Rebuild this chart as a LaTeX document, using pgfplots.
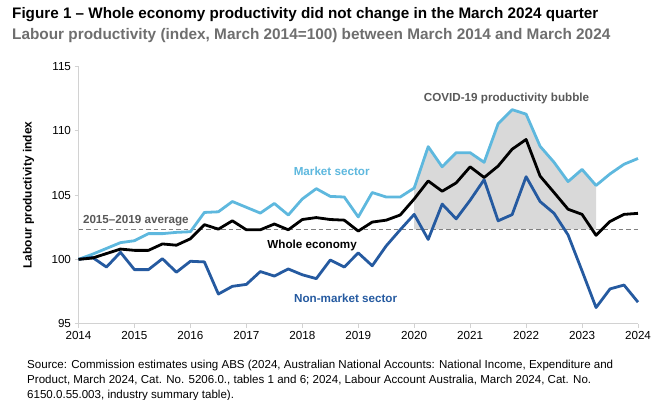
\documentclass[border=0pt]{standalone}
\usepackage{fontspec}
\setmainfont{Liberation Sans}
\usepackage{pgfplots}
\usepackage{pgfplotstable}
\pgfplotsset{compat=1.18}
\definecolor{mkt}{RGB}{94,184,222}
\definecolor{nonmkt}{RGB}{37,90,160}
\definecolor{avgc}{RGB}{128,128,128}
\definecolor{bubble}{RGB}{217,217,217}
\definecolor{subt}{RGB}{110,110,110}
\definecolor{annot}{RGB}{89,89,89}
\definecolor{axisc}{RGB}{210,210,210}

\pgfplotstableread{
q mkt whole nonmkt
0 100.00 100.00 100.00
1 100.40 100.10 100.15
2 100.85 100.45 99.40
3 101.30 100.80 100.55
4 101.45 100.70 99.20
5 102.00 100.70 99.20
6 102.00 101.20 100.05
7 102.10 101.10 99.00
8 102.15 101.60 99.85
9 103.65 102.70 99.80
10 103.70 102.35 97.30
11 104.50 103.00 97.90
12 104.05 102.30 98.05
13 103.60 102.30 99.05
14 104.35 102.75 98.70
15 103.45 102.30 99.25
16 104.70 103.10 98.80
17 105.50 103.25 98.50
18 104.90 103.10 99.95
19 104.85 103.05 99.40
20 103.30 102.20 100.50
21 105.20 102.90 99.50
22 104.85 103.05 101.05
23 104.85 103.45 102.30
24 105.55 104.70 103.50
25 108.77 106.10 101.55
26 107.20 105.30 104.30
27 108.30 105.95 103.15
28 108.30 107.20 104.60
29 107.55 106.37 106.20
30 110.55 107.26 103.00
31 111.65 108.57 103.48
32 111.30 109.33 106.43
33 108.80 106.48 104.50
34 107.55 105.20 103.58
35 106.05 103.90 101.90
36 107.00 103.50 99.10
37 105.75 101.87 96.25
38 106.65 102.95 97.70
39 107.40 103.50 98.00
40 107.85 103.58 96.67
}\prodtable

\begin{document}
\begin{tikzpicture}
\path[use as bounding box] (0bp,0bp) rectangle (664bp,400bp);
% titles
\node[anchor=base west, inner sep=0pt, font=\fontsize{15.3}{18}\selectfont\bfseries] at (12bp,381bp)
  {Figure 1 \textendash{} Whole economy productivity did not change in the March 2024 quarter};
\node[anchor=base west, inner sep=0pt, text=subt, font=\fontsize{15.4}{18}\selectfont\bfseries] at (12bp,360bp)
  {Labour productivity (index, March 2014=100) between March 2014 and March 2024};
% y label
\node[rotate=90, inner sep=0pt, font=\fontsize{12}{14}\selectfont\bfseries] at (28.5bp,205bp)
  {Labour productivity index};
% source
\node[anchor=base west, inner sep=0pt, font=\fontsize{11.6}{13}\selectfont] at (27bp,32bp)
  {Source: Commission estimates using ABS (2024, Australian National Accounts: National Income, Expenditure and};
\node[anchor=base west, inner sep=0pt, font=\fontsize{11.6}{13}\selectfont] at (27bp,16.5bp)
  {Product, March 2024, Cat. No. 5206.0., tables 1 and 6; 2024, Labour Account Australia, March 2024, Cat. No.};
\node[anchor=base west, inner sep=0pt, font=\fontsize{11.6}{13}\selectfont] at (27bp,1.5bp)
  {6150.0.55.003, industry summary table).};

\begin{axis}[
  at={(78.5bp,76.4bp)}, anchor=south west,
  scale only axis, width=559.5bp, height=257bp,
  xmin=0, xmax=40, ymin=95, ymax=115,
  xtick={0,4,...,40},
  xticklabels={2014,2015,2016,2017,2018,2019,2020,2021,2022,2023,2024},
  ytick={95,100,105,110,115},
  axis x line*=bottom, axis y line*=left,
  axis line style={draw=axisc, line width=1bp, -},
  tick align=outside, tick pos=left,
  major tick length=4bp,
  tick style={draw=axisc, line width=0.8bp},
  ticklabel style={font=\fontsize{11.7}{14}\selectfont},
  /pgf/number format/assume math mode=true,
  clip=false,
]
\addplot[fill=bubble, draw=none] coordinates {
 (24,105.55) (25,108.77) (26,107.20) (27,108.30) (28,108.30) (29,107.55)
 (30,110.55) (31,111.65) (32,111.30) (33,108.80) (34,107.55) (35,106.05)
 (36,107.00) (37,105.75) (37,102.33) (24,102.33)} -- cycle;
\addplot[avgc, line width=1.6bp, dash pattern=on 4.5bp off 3bp] coordinates {(0,102.33) (40,102.33)};
\addplot[mkt, line width=2.8bp, line join=round] table[x=q, y=mkt] {\prodtable};
\addplot[nonmkt, line width=2.8bp, line join=round] table[x=q, y=nonmkt] {\prodtable};
\addplot[black, line width=2.8bp, line join=round] table[x=q, y=whole] {\prodtable};

\node[font=\fontsize{11.7}{14}\selectfont\bfseries, text=mkt] at (axis cs:18.1,106.86) {Market sector};
\node[font=\fontsize{11.7}{14}\selectfont\bfseries, text=black] at (axis cs:16.7,101.05) {Whole economy};
\node[font=\fontsize{11.7}{14}\selectfont\bfseries, text=nonmkt] at (axis cs:19.1,97.0) {Non-market sector};
\node[font=\fontsize{11.7}{14}\selectfont\bfseries, text=annot] at (axis cs:4.1,102.98) {2015\textendash 2019 average};
\node[font=\fontsize{11.7}{14}\selectfont\bfseries, text=annot] at (axis cs:30.6,112.55) {COVID-19 productivity bubble};
\end{axis}
\end{tikzpicture}
\end{document}
